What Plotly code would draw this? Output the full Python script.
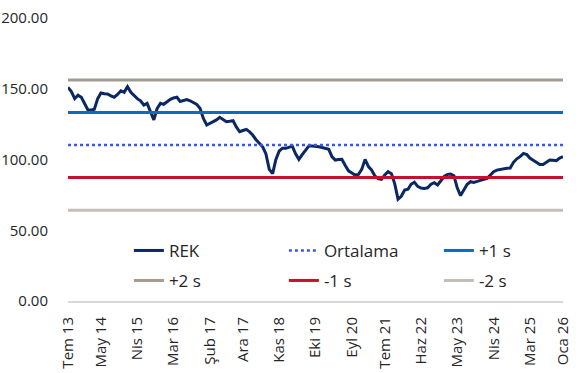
import pandas as pd
import plotly.graph_objects as go

# Monthly REK values, Jul 2013 .. Jan 2026
rek_values = [
    151, 148, 143, 145.5, 144, 140, 135, 135, 135.5, 143,
    147, 146.5, 146.3, 145, 144, 146, 148.6, 147.5, 151.5, 147.5,
    145, 143, 141.5, 138.5, 139.7, 134, 128, 136, 139.7, 139,
    141, 142.5, 143.5, 144, 141, 141.5, 142.4, 141.5, 140.5, 139,
    136, 129, 124.4, 125.5, 126.7, 128, 129.8, 128.5, 126.7, 127,
    127.4, 123, 119.6, 120.5, 121.3, 119.5, 117.3, 114, 111.4, 109,
    104, 93, 90, 100, 106, 108, 107.9, 108.5, 109.5, 104,
    100.1, 103.5, 106.5, 109.5, 109.5, 109.5, 109, 108.5, 108, 107.2,
    102, 99.6, 100, 100.1, 96, 92, 90.5, 89, 89.5, 93,
    100.1, 95, 92.6, 88.5, 86.5, 86, 89, 91.4, 90, 83,
    72, 74, 78.4, 79, 82.5, 84, 81, 79.8, 79.6, 80,
    82.5, 83.6, 82, 85, 88, 89.5, 89.7, 88.5, 80, 74.5,
    79, 82.5, 84.3, 83.8, 84.5, 85.5, 86, 86.7, 89, 91.4,
    92.5, 93.1, 93.5, 93.8, 94, 98, 100.5, 102, 104.3, 103.5,
    101, 99.6, 98, 96.5, 96.5, 98, 99.6, 99.5, 99.1, 101,
    102,
]
start_month = "2013-07-01"

# Reference levels
level_names = ["Ortalama", "+1 s", "+2 s", "-1 s", "-2 s"]
level_values = [110.2, 133.2, 156.2, 87.2, 64.2]

tick_dates = ["2013-07-01", "2014-05-01", "2015-04-01", "2016-03-01", "2017-02-01",
              "2017-12-01", "2018-11-01", "2019-10-01", "2020-09-01", "2021-07-01",
              "2022-06-01", "2023-05-01", "2024-04-01", "2025-03-01", "2026-01-01"]
tick_labels = ["Tem 13", "May 14", "Nis 15", "Mar 16", "Şub 17", "Ara 17", "Kas 18",
               "Eki 19", "Eyl 20", "Tem 21", "Haz 22", "May 23", "Nis 24", "Mar 25", "Oca 26"]

dates = pd.date_range(start_month, periods=len(rek_values), freq="MS")

styles = {
    "Ortalama": dict(color="#3a57e8", width=2.5, dash="dot"),
    "+1 s": dict(color="#0a6cc2", width=3),
    "+2 s": dict(color="#a39b92", width=3),
    "-1 s": dict(color="#c8102e", width=3),
    "-2 s": dict(color="#c4beb8", width=3),
}
legend_of = {"Ortalama": "legend", "+1 s": "legend", "+2 s": "legend2",
             "-1 s": "legend2", "-2 s": "legend2"}

fig = go.Figure()
fig.add_trace(go.Scatter(x=dates, y=rek_values, mode="lines", name="REK",
                         line=dict(color="#0b2862", width=3), legend="legend"))
for name, val in zip(level_names, level_values):
    fig.add_trace(go.Scatter(x=[dates[0], dates[-1]], y=[val, val], mode="lines",
                             name=name, line=styles[name], legend=legend_of[name]))

legend_common = dict(orientation="h", xanchor="left", yanchor="middle",
                     bgcolor="rgba(0,0,0,0)", font=dict(family="Open Sans", size=17, color="#262626"),
                     entrywidth=110, entrywidthmode="pixels", traceorder="normal",
                     itemclick=False)

fig.update_layout(
    width=586, height=373,
    margin=dict(l=68, r=23, t=18, b=72, autoexpand=False),
    paper_bgcolor="white", plot_bgcolor="white",
    font=dict(family="Open Sans", size=15, color="#262626"),
    showlegend=True,
    legend=dict(x=0.123, y=0.177, **legend_common),
    legend2=dict(x=0.123, y=0.071, **legend_common),
    xaxis=dict(type="date", range=[dates[0], dates[-1]], tickvals=tick_dates,
               ticktext=tick_labels, tickangle=-90, showgrid=False, zeroline=False,
               showline=True, linecolor="#d9d9d9", linewidth=2, automargin=False,
               ticks="outside", ticklen=8, tickcolor="rgba(0,0,0,0)",
               tickfont=dict(size=15)),
    yaxis=dict(range=[0, 200], dtick=50, tickformat=".2f", showgrid=False,
               zeroline=False, ticks="outside", ticklen=16, tickcolor="rgba(0,0,0,0)",
               automargin=False, tickfont=dict(size=15)),
)

fig.write_html("out.html")
